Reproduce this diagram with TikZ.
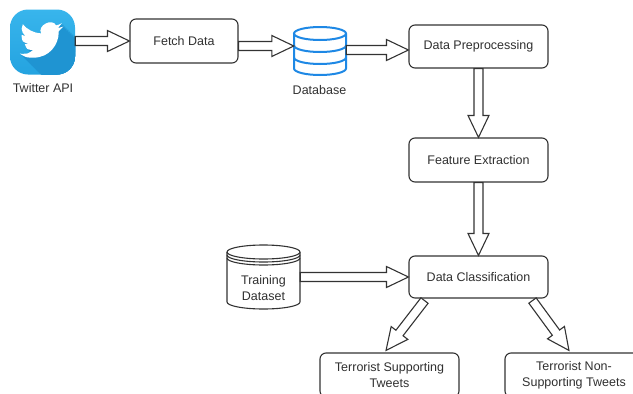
\documentclass[tikz,border=0pt]{standalone}
\usepackage{fontspec}
\setmainfont{Liberation Sans}
\usetikzlibrary{calc}
\definecolor{edge}{HTML}{333333}
\definecolor{txt}{HTML}{303030}
\definecolor{dbblue}{HTML}{1E88E5}
\definecolor{twtop}{HTML}{38B5EC}
\definecolor{twbot}{HTML}{24A3E0}
\definecolor{twshadow}{HTML}{1F94D2}
\tikzset{
  box/.style={draw=edge, line width=1.1pt, rounded corners=6pt, fill=white,
    minimum width=139pt, minimum height=44pt, inner sep=0pt,
    font=\fontsize{12.5}{16}\selectfont, text=txt, align=center},
  lbl/.style={font=\fontsize{12.5}{16}\selectfont, text=txt, align=center, inner sep=0pt},
  flex/.style={draw=edge, line width=1.1pt, fill=white, line join=miter},
  dbline/.style={draw=dbblue, line width=2pt},
  storeline/.style={draw=edge, line width=1.1pt},
}
\newcommand{\flexarrow}[2]{%
  \draw[flex] let \p1=#1, \p2=#2, \n1={atan2(\y2-\y1,\x2-\x1)},
    \n2={veclen(\x2-\x1,\y2-\y1)} in
    [shift={(\p1)}, rotate=\n1]
    (0pt,-4.5pt) -- ({\n2-22pt},-4.5pt) -- ({\n2-22pt},-10.5pt) -- (\n2,0pt)
    -- ({\n2-22pt},10.5pt) -- ({\n2-22pt},4.5pt) -- (0pt,4.5pt) -- cycle;}
\newcommand{\birdpath}{(23.953,4.57) -- (21.128,5.345) -- (23.291,2.622)
  .. controls (22.34,3.177) and (21.286,3.581) .. (20.164,3.806)
  .. controls (17.87,-0.49) and (9.49,3.99) .. (11.78,8.288)
  .. controls (7.69,8.095) and (4.067,6.13) .. (1.64,3.162)
  -- (0.974,5.637)
  .. controls (0.974,7.347) and (1.844,8.85) .. (3.162,9.733)
  -- (0.934,9.117) -- (0.934,9.177)
  .. controls (1.18,13.0) .. (4.88,14.004)
  -- (2.668,14.089)
  .. controls (3.87,17.28) .. (7.272,17.506)
  .. controls (4.57,19.58) .. (1.17,19.611)
  .. controls (0.78,19.611) and (0.391,19.588) .. (0,19.544)
  .. controls (3.47,21.72) .. (7.557,21.753)
  .. controls (16.61,21.753) and (21.555,14.257) .. (21.555,7.768)
  .. controls (21.555,7.558) and (21.555,7.348) .. (21.54,7.138)
  -- (24,4.59) -- cycle}
\begin{document}
\begin{tikzpicture}[x=1pt,y=-1pt]
\useasboundingbox (0,0) rectangle (633,394);
\clip (0,0) rectangle (633,394);
\fill[white] (0,0) rectangle (633,394);

% Twitter icon
\node[minimum size=65pt, inner sep=0pt, rounded corners=18pt, top color=twtop, bottom color=twbot] (tw) at (42.5,42) {};
\begin{scope}
\clip[rounded corners=18pt] (10,9.5) rectangle (75,74.5);
\begin{scope}[shift={(19.9,18.5)}, scale=1.8]
\foreach \s in {0.4,0.8,...,12} {
  \fill[twshadow] [shift={(\s,\s)}] \birdpath;
}
\end{scope}
\end{scope}
\begin{scope}[shift={(19.9,18.5)}, scale=1.8]
\fill[white] \birdpath;
\end{scope}
\node[lbl] (twl) at (43,88) {Twitter API};

% Database icon
\node[minimum width=52pt, minimum height=48pt, inner sep=0pt] (db) at (320,50) {};
\draw[dbline] (320,33.5) ellipse [x radius=26pt, y radius=6.5pt];
\draw[dbline] (294,33.5) -- (294,68.5) arc[start angle=180, end angle=360, x radius=26pt, y radius=6.5pt] -- (346,33.5);
\draw[dbline] (294,45.5) arc[start angle=180, end angle=360, x radius=26pt, y radius=6.5pt];
\draw[dbline] (294,57.5) arc[start angle=180, end angle=360, x radius=26pt, y radius=6.5pt];
\node[lbl] (dbl) at (319.5,90) {Database};

% Training dataset (datastore)
\node[minimum width=73pt, minimum height=64pt, inner sep=0pt] (train) at (263.5,277) {};
\filldraw[storeline, fill=white] (227,252) -- (227,302) arc[start angle=180, end angle=360, x radius=36.5pt, y radius=7pt] -- (300,252);
\filldraw[storeline, fill=white] (263.5,252) ellipse [x radius=36.5pt, y radius=7pt];
\draw[storeline] (227,255) arc[start angle=180, end angle=360, x radius=36.5pt, y radius=7pt];
\draw[storeline] (227,258) arc[start angle=180, end angle=360, x radius=36.5pt, y radius=7pt];
\node[lbl] (trainl) at (263.5,288.5) {Training\\Dataset};

% Process boxes
\node[box, minimum width=108pt] (fetch) at (184,41) {Fetch Data};
\node[box, minimum height=43pt] (preproc) at (478.5,46.5) {Data Preprocessing};
\node[box] (feature) at (478.5,160) {Feature Extraction};
\node[box, minimum height=42pt] (classif) at (478.5,277) {Data Classification};
\node[box] (sup) at (389.5,375) {Terrorist Supporting\\Tweets};
\node[box, minimum width=138pt] (nonsup) at (574,375) {Terrorist Non-\\Supporting Tweets};

% Arrows
\flexarrow{($(tw.east)+(0,-1)$)}{(fetch.west)}
\flexarrow{($(fetch.east)+(0,5)$)}{($(db.west)+(0,-4)$)}
\flexarrow{(db.east)}{($(preproc.west)+(0,3.5)$)}
\flexarrow{(preproc.south)}{(feature.north)}
\flexarrow{(feature.south)}{(classif.north)}
\flexarrow{(train.east)}{(classif.west)}
\flexarrow{($(classif.south)+(-54,2)$)}{($(sup.north)+(-3.5,-2)$)}
\flexarrow{($(classif.south)+(54,2)$)}{($(nonsup.north)+(-5,-2)$)}
\end{tikzpicture}
\end{document}
